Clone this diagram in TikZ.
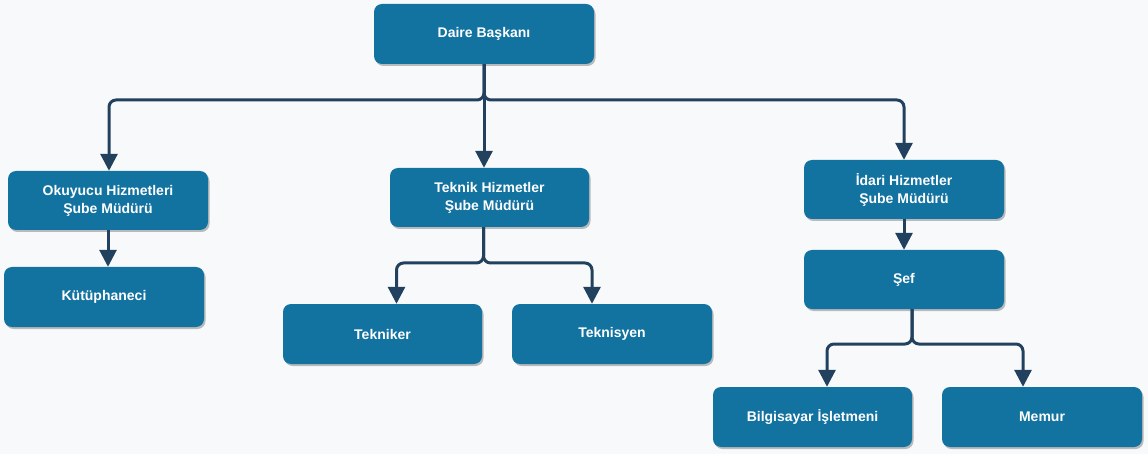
\documentclass[tikz,border=0pt]{standalone}
\usepackage{fontspec}
\setmainfont{Liberation Sans}
\usetikzlibrary{arrows.meta,shadows,calc}
\definecolor{bgcol}{HTML}{F8F9FA}
\definecolor{boxcol}{HTML}{1272A0}
\definecolor{linecol}{HTML}{21415E}
\tikzset{
  orgbox/.style={rectangle, rounded corners=8pt, fill=boxcol, text=white,
    minimum width=200pt, minimum height=60pt, align=center, inner sep=2pt,
    font=\fontsize{14}{18}\selectfont\bfseries,
    drop shadow={shadow xshift=1.5pt, shadow yshift=-2pt, opacity=0.25, fill=black}},
  conn/.style={draw=linecol, line width=3pt, rounded corners=7pt,
    -{Triangle[width=17pt,length=17pt]}},
}
\begin{document}
\begin{tikzpicture}[x=1pt,y=-1pt]
\fill[bgcol] (0,0) rectangle (1148,454);
\useasboundingbox (0,0) rectangle (1148,454);

\node[orgbox, minimum width=220pt] (daire) at (484,34) {Daire Başkanı};
\node[orgbox, minimum height=59pt] (okuyucu) at (108,200.5) {Okuyucu Hizmetleri\\Şube Müdürü};
\node[orgbox] (kutup) at (104,297) {Kütüphaneci};
\node[orgbox, minimum width=199pt, minimum height=59pt] (teknik) at (489.5,197.5) {Teknik Hizmetler\\Şube Müdürü};
\node[orgbox, minimum width=199pt] (tekniker) at (382.5,334) {Tekniker};
\node[orgbox] (teknisyen) at (612,334) {Teknisyen};
\node[orgbox, minimum height=59pt] (idari) at (904,189.5) {İdari Hizmetler\\ Şube Müdürü};
\node[orgbox, minimum height=59pt] (sef) at (904,279.5) {Şef};
\node[orgbox, minimum width=199pt] (bilgi) at (812.5,417) {Bilgisayar İşletmeni};
\node[orgbox] (memur) at (1042,417) {Memur};

% anchor points for connectors
\coordinate (okin)  at ($(okuyucu.north)+(1,0)$);
\coordinate (tk)    at ($(teknik.south)+(-6,0)$);
\coordinate (tkrin) at ($(tekniker.north)+(14,0)$);
\coordinate (tsyin) at ($(teknisyen.north)+(-20,0)$);
\coordinate (sk)    at ($(sef.south)+(8,0)$);
\coordinate (blin)  at ($(bilgi.north)+(14.5,0)$);
\coordinate (mmin)  at ($(memur.north)+(-19,0)$);

% top level
\draw[conn] (daire.south) -- (daire.south |- 0,100) -- (okin |- 0,100) -- (okin);
\draw[conn] (daire.south) -- (daire.south |- 0,100) -- (idari.north |- 0,100) -- (idari.north);
\draw[conn] (daire.south) -- (daire.south |- teknik.north);

\draw[conn] (okuyucu.south) -- (okuyucu.south |- kutup.north);

% teknik
\draw[conn] (tk) -- (tk |- 0,263) -- (tkrin |- 0,263) -- (tkrin);
\draw[conn] (tk) -- (tk |- 0,263) -- (tsyin |- 0,263) -- (tsyin);

% idari
\draw[conn] (idari.south) -- (sef.north);
\draw[conn] (sk) -- (sk |- 0,344) -- (blin |- 0,344) -- (blin);
\draw[conn] (sk) -- (sk |- 0,344) -- (mmin |- 0,344) -- (mmin);
\end{tikzpicture}
\end{document}
